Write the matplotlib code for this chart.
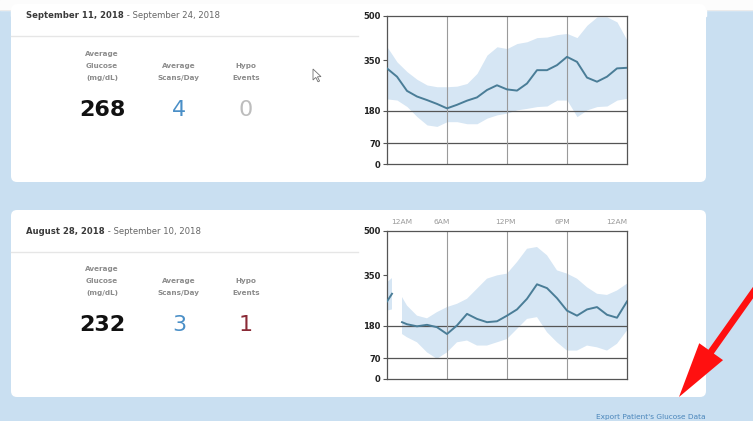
import numpy as np
import matplotlib
matplotlib.use("Agg")
import matplotlib.pyplot as plt
from matplotlib.patches import FancyBboxPatch, FancyArrowPatch, Polygon

# ---- data (mg/dL by hour of day) ----
hours1 = list(range(25))
median1 = [323, 295, 247, 228, 216, 203, 188, 200, 214, 225, 250, 266, 252,
           248, 272, 317, 317, 334, 362, 345, 292, 278, 295, 323, 325]
upper1 = [396, 345, 312, 286, 267, 261, 261, 263, 272, 306, 368, 396, 390,
          407, 413, 427, 429, 437, 441, 427, 469, 497, 497, 480, 418]
lower1 = [220, 216, 194, 160, 132, 127, 143, 143, 136, 136, 155, 166, 172,
          183, 188, 194, 196, 216, 216, 160, 183, 194, 196, 216, 222]

hours2 = [0, 0.5, 1, 1.5] + list(range(2, 25))
median2 = [262, 288, np.nan, 192, 185, 178, 183, 175, 152, 181, 220, 203, 192,
           195, 214, 235, 271, 320, 307, 273, 231, 214, 235, 243, 217, 207, 262]
upper2 = [327, 341, np.nan, 277, 248, 214, 205, 226, 243, 254, 271, 305, 339,
          350, 356, 395, 440, 446, 418, 367, 356, 339, 310, 288, 284, 299, 322]
lower2 = [231, 235, np.nan, 152, 141, 124, 90, 68, 90, 124, 130, 113, 113,
          124, 135, 169, 203, 209, 158, 124, 96, 96, 113, 107, 96, 119, 164]

y_ticks = [0, 70, 180, 350, 500]
time_labels = ["12AM", "6AM", "12PM", "6PM", "12AM"]
time_label_pos = [1.5, 5.5, 11.8, 17.5, 23.0]

date_bold = ["September 11, 2018", "August 28, 2018"]
date_rest = [" - September 24, 2018", " - September 10, 2018"]
avg_glucose = ["268", "232"]
avg_scans = ["4", "3"]
hypo_events = ["0", "1"]
hypo_colors = ["#bdbdbd", "#8a2a36"]

BG = "#c9dff1"
BAND = "#d6e6f4"
LINE = "#4a7d97"
W, H = 753, 421

fig = plt.figure(figsize=(W / 100, H / 100), dpi=100)
fig.patch.set_facecolor(BG)
bg = fig.add_axes([0, 0, 1, 1])
bg.set_xlim(0, W)
bg.set_ylim(H, 0)
bg.axis("off")

# white strip at the very top
bg.add_patch(plt.Rectangle((0, 0), W, 10, color="#fcfcfc", zorder=0))
bg.plot([0, W], [10, 10], color="#e8e8e8", lw=0.6, zorder=1)

cards = [(10, 182), (210, 397)]
for top, bottom in cards:
    bg.add_patch(FancyBboxPatch((11, top - 6 if top < 20 else top), 695,
                                bottom - top + (6 if top < 20 else 0),
                                boxstyle="round,pad=0,rounding_size=6",
                                fc="white", ec="none", zorder=1))
bg.add_patch(plt.Rectangle((11, 10), 695, 6, color="white", zorder=1))

fig.canvas.draw()
renderer = fig.canvas.get_renderer()

header_y = [16, 232]
divider_y = [36, 252]
label_y = [54, 269]
number_y = [110, 325]
for i in range(2):
    t = bg.text(26, header_y[i], date_bold[i], fontsize=6.1, fontweight="bold",
                color="#3a3a3a", va="center", zorder=3)
    bb = t.get_window_extent(renderer).transformed(bg.transData.inverted())
    bg.text(bb.x1, header_y[i], date_rest[i], fontsize=6.1, color="#666666",
            va="center", zorder=3)
    bg.plot([11, 358], [divider_y[i], divider_y[i]], color="#e6e6e6", lw=1, zorder=2)

    ly = label_y[i]
    lab = dict(fontsize=5.2, fontweight="bold", color="#8c8c8c", ha="center",
               va="center", zorder=3)
    for k, s in enumerate(["Average", "Glucose", "(mg/dL)"]):
        bg.text(102, ly + 12 * k, s, **lab)
    for k, s in enumerate(["Average", "Scans/Day"]):
        bg.text(179, ly + 12 + 12 * k, s, **lab)
    for k, s in enumerate(["Hypo", "Events"]):
        bg.text(246, ly + 12 + 12 * k, s, **lab)

    ny = number_y[i]
    bg.text(102, ny, avg_glucose[i], fontsize=16, fontweight="bold",
            color="#111111", ha="center", va="center", zorder=3)
    bg.text(179, ny, avg_scans[i], fontsize=16, color="#4a8fc7",
            ha="center", va="center", zorder=3)
    bg.text(246, ny, hypo_events[i], fontsize=16, color=hypo_colors[i],
            ha="center", va="center", zorder=3)

# mouse pointer
bg.add_patch(Polygon([(313, 69), (313, 80), (315.8, 77.4), (318, 81.8),
                      (319.6, 81), (317.4, 76.8), (321, 76.6)],
                     closed=True, fc="white", ec="#707070", lw=0.6, zorder=4))

bg.text(706, 417, "Export Patient's Glucose Data", fontsize=5.3,
        color="#4a86bb", ha="right", va="center", zorder=3)

arrow = FancyArrowPatch((774, 263), (679, 397),
                        arrowstyle="simple,head_length=2.0,head_width=1.05,tail_width=0.24",
                        mutation_scale=20, fc="#ff1010", ec="#ff1010", lw=0,
                        shrinkA=0, shrinkB=0, zorder=6)
bg.add_patch(arrow)


def glucose_chart(rect, hrs, med, up, lo, show_time):
    ax = fig.add_axes(rect)
    ax.set_facecolor("white")
    ax.fill_between(hrs, lo, up, color=BAND, lw=0, zorder=1)
    ax.plot(hrs, med, color=LINE, lw=1.4, zorder=3)
    for v in (70, 180):
        ax.axhline(v, color="#555555", lw=0.9, zorder=2)
    for h in (6, 12, 18):
        ax.axvline(h, color="#9a9a9a", lw=0.8, zorder=2)
    ax.set_xlim(0, 24)
    ax.set_ylim(0, 500)
    ax.set_yticks(y_ticks)
    ax.set_yticklabels([str(v) for v in y_ticks], fontsize=6, fontweight="bold",
                       color="#222222")
    ax.tick_params(axis="y", length=3, width=0.8, color="#555555", pad=1.5)
    ax.set_xticks([])
    for s in ax.spines.values():
        s.set_color("#555555")
        s.set_linewidth(0.9)
    if show_time:
        for x, s in zip(time_label_pos, time_labels):
            ax.text(x, 1.04, s, transform=ax.get_xaxis_transform(), fontsize=5.4,
                    color="#9a9a9a", ha="center", va="bottom")
    return ax


glucose_chart([387 / W, 1 - 164 / H, 240 / W, 148 / H],
              hours1, median1, upper1, lower1, False)
glucose_chart([387 / W, 1 - 379 / H, 240 / W, 148 / H],
              hours2, median2, upper2, lower2, True)

fig.savefig("out.png", dpi=100, facecolor=BG)
